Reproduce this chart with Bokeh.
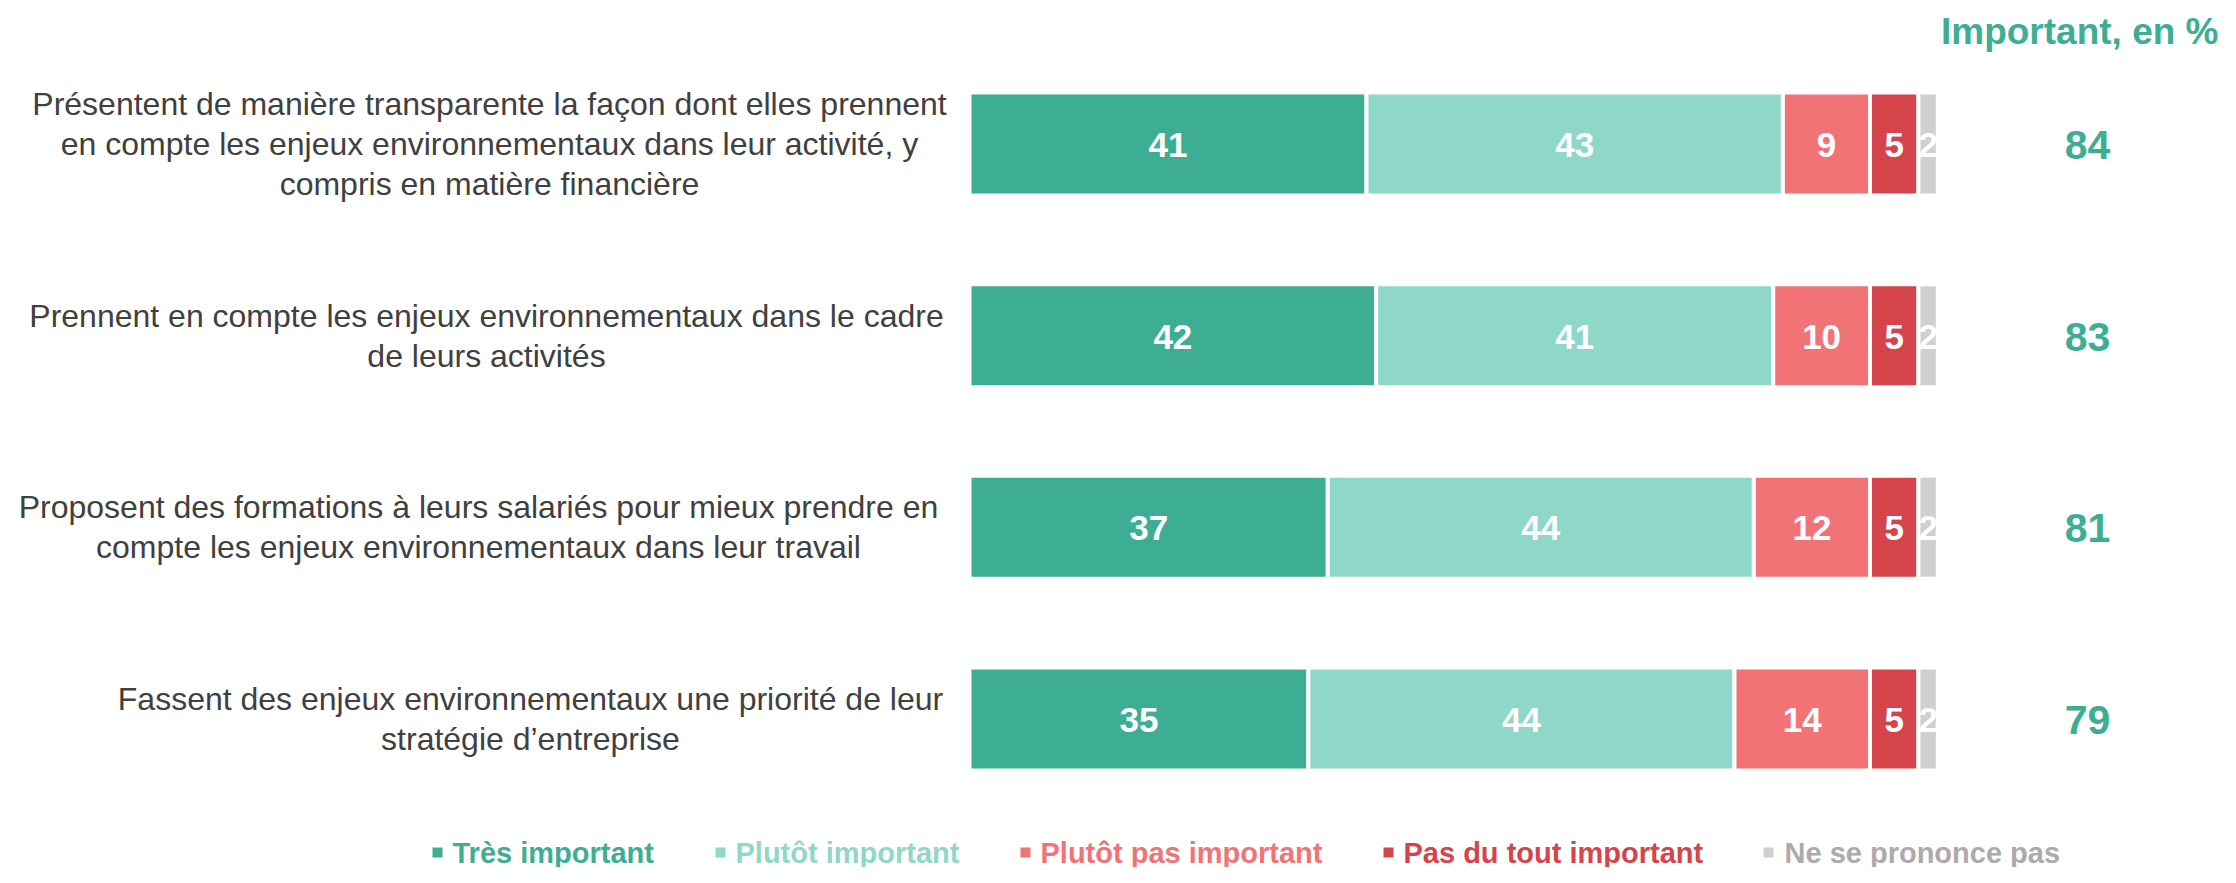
from bokeh.plotting import figure
from bokeh.models import Range1d, ColumnDataSource
from bokeh.core.properties import value
from bokeh.embed import file_html
from bokeh.resources import INLINE

# ---------------- data ----------------
categories = [
    "Présentent de manière transparente la façon dont elles prennent\nen compte les enjeux environnementaux dans leur activité, y\ncompris en matière financière",
    "Prennent en compte les enjeux environnementaux dans le cadre\nde leurs activités",
    "Proposent des formations à leurs salariés pour mieux prendre en\ncompte les enjeux environnementaux dans leur travail",
    "Fassent des enjeux environnementaux une priorité de leur\nstratégie d’entreprise",
]
series_names = ["Très important", "Plutôt important", "Plutôt pas important",
                "Pas du tout important", "Ne se prononce pas"]
tres_important = [41, 42, 37, 35]
plutot_important = [43, 41, 44, 44]
plutot_pas_important = [9, 10, 12, 14]
pas_du_tout_important = [5, 5, 5, 5]
ne_se_prononce_pas = [2, 2, 2, 2]
important_total = [84, 83, 81, 79]
header_text = "Important, en %"

# ---------------- style ----------------
series_colors = ["#3dae94", "#8fd7c9", "#f27375", "#d6444b", "#d0cece"]
legend_text_colors = ["#3dae94", "#8fd7c9", "#f27375", "#d6444b", "#aeaaaa"]
label_color = "#404040"
FONT = "Liberation Sans"

# ---------------- layout (picture pixels) ----------------
W, H = 2220, 867
X0 = 969.0            # x of 0 %
PX_PER_UNIT = 9.683   # pixels per percentage point
Y0 = 143.5            # y of first bar centre
ROW_PX = 191.67       # spacing between bars
BAR_PX = 103          # bar thickness incl. white border

def dx(sx):
    return (sx - X0) / PX_PER_UNIT

def dy(sy):
    return (sy - Y0) / ROW_PX

p = figure(width=W, height=H, output_backend="svg", toolbar_location=None,
           x_range=Range1d(dx(0), dx(W)), y_range=Range1d(dy(H), dy(0)),
           x_axis_type=None, y_axis_type=None, min_border=0)
p.grid.visible = False
p.outline_line_color = None
p.background_fill_color = "white"
p.border_fill_color = "white"

rows = list(range(len(categories)))
series = [tres_important, plutot_important, plutot_pas_important,
          pas_du_tout_important, ne_se_prononce_pas]

left = [0.0] * len(rows)
for vals, col in zip(series, series_colors):
    right = [l + v for l, v in zip(left, vals)]
    src = ColumnDataSource(dict(
        y=rows, left=left, right=right,
        xm=[(l + r) / 2 for l, r in zip(left, right)],
        lab=[str(v) for v in vals]))
    p.hbar(y="y", left="left", right="right", height=BAR_PX / ROW_PX, source=src,
           fill_color=col, line_color="white", line_width=4)
    p.text(x="xm", y="y", text="lab", source=src, text_color="white",
           text_font=value(FONT), text_font_style="bold", text_font_size="35px",
           text_align="center", text_baseline="middle", y_offset=1)
    left = right

# category labels (centres in picture px)
label_centres = [489, 486, 478, 530]
p.text(x=[dx(c) for c in label_centres], y=rows, text=categories,
       text_color=label_color, text_font=value(FONT), text_font_size="32px",
       text_align="center", text_baseline="middle", text_line_height=1.12)

# totals
p.text(x=[dx(2087)] * len(rows), y=rows, text=[str(v) for v in important_total],
       text_color=series_colors[0], text_font=value(FONT), text_font_style="bold",
       text_font_size="41px", text_align="center", text_baseline="middle", y_offset=1)

# header
p.text(x=[dx(2218)], y=[dy(31)], text=[header_text], text_color=series_colors[0],
       text_font=value(FONT), text_font_style="bold", text_font_size="37px",
       text_align="right", text_baseline="middle")

# legend
sq_x = [437, 720, 1025, 1388, 1768]
tx_x = [452, 735, 1040, 1403, 1784]
leg_y = dy(852)
p.scatter(x=[dx(s) for s in sq_x], y=[leg_y] * 5, marker="square", size=10,
          fill_color=series_colors, line_color=None)
p.text(x=[dx(s) for s in tx_x], y=[leg_y] * 5, text=series_names,
       text_color=legend_text_colors, text_font=value(FONT), text_font_style="bold",
       text_font_size="29px", text_align="left", text_baseline="middle")

open("out.html", "w").write(file_html(p, INLINE))
